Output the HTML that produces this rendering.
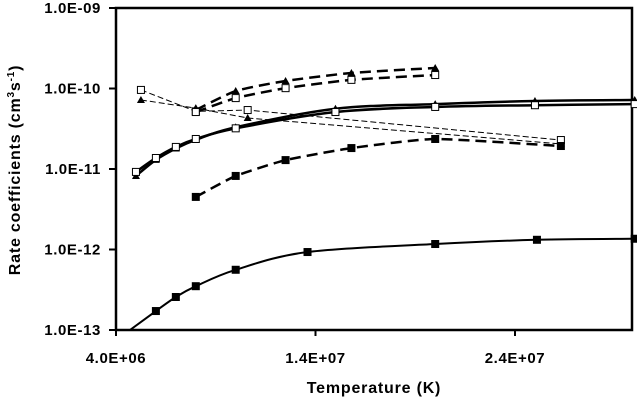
<!DOCTYPE html>
<html><head><meta charset="utf-8"><style>
body{margin:0;background:#fff;}
svg text{font-family:"Liberation Sans",Arial,sans-serif;font-weight:bold;fill:#000;}
</style></head><body>
<svg id="chart" width="637" height="400" viewBox="0 0 637 400" xmlns="http://www.w3.org/2000/svg">
<defs><clipPath id="clip"><rect x="116" y="8" width="516" height="322"/></clipPath></defs>
<g id="axes"></g>
<g id="series" clip-path="url(#clip)"></g>
<g id="markers"></g>
<text x="374" y="393" font-size="16" letter-spacing="0.8" text-anchor="middle">Temperature (K)</text>
<text transform="translate(20,170) rotate(-90)" font-size="16" letter-spacing="0.8" text-anchor="middle">Rate coefficients (cm<tspan font-size="10" dy="-6">3</tspan><tspan dy="6">s</tspan><tspan font-size="10" dy="-6">-1</tspan><tspan dy="6">)</tspan></text>
</svg>
<script>
// Temperatures in units of 1e6 K
const xTickValues = [4, 14, 24];
const xTickLabels = ["4.0E+06", "1.4E+07", "2.4E+07"];
const yTickExps = [-9, -10, -11, -12, -13];
const yTickLabels = ["1.0E-09", "1.0E-10", "1.0E-11", "1.0E-12", "1.0E-13"];

const tSolidSqFilled = [4.7, 6, 7, 8, 10, 13.6, 20, 25.1, 30];
const vSolidSqFilled = [1.0e-13, 1.72e-13, 2.57e-13, 3.5e-13, 5.6e-13, 9.3e-13, 1.17e-12, 1.32e-12, 1.36e-12];

const tDashSqFilled = [8, 10, 12.5, 15.8, 20, 26.3];
const vDashSqFilled = [4.5e-12, 8.2e-12, 1.29e-11, 1.82e-11, 2.36e-11, 1.93e-11];

const tSolidSqOpen = [5, 6, 7, 8, 10, 15, 20, 25, 30];
const vSolidSqOpen = [9.2e-12, 1.37e-11, 1.88e-11, 2.36e-11, 3.2e-11, 5.1e-11, 5.9e-11, 6.2e-11, 6.4e-11];

const tSolidTri = [5, 6, 7, 8, 10, 15, 20, 25, 30];
const vSolidTri = [8.2e-12, 1.3e-11, 1.8e-11, 2.3e-11, 3.3e-11, 5.6e-11, 6.4e-11, 7.0e-11, 7.2e-11];

const tThinSqOpen = [5.25, 8, 10.6, 26.3];
const vThinSqOpen = [9.6e-11, 5.2e-11, 5.4e-11, 2.29e-11];

const tThinTri = [5.25, 8, 10.6, 26.3];
const vThinTri = [7.2e-11, 5.7e-11, 4.3e-11, 2.05e-11];

const tDashSqOpen = [8, 10, 12.5, 15.8, 20];
const vDashSqOpen = [5.1e-11, 7.6e-11, 1.01e-10, 1.28e-10, 1.47e-10];

const tDashTri = [8, 10, 12.5, 15.8, 20];
const vDashTri = [5.4e-11, 9.3e-11, 1.24e-10, 1.56e-10, 1.80e-10];

const X0 = 116, X1 = 632, Y0 = 8, Y1 = 330;
function xs(t){ return X0 + (t - 4) * 19.95; }
function ys(v){ return Y0 + (-9 - Math.log10(v)) * 80.5; }
const NS = "http://www.w3.org/2000/svg";
function mk(tag, attrs, parent){
  const e = document.createElementNS(NS, tag);
  for (const k in attrs) e.setAttribute(k, attrs[k]);
  parent.appendChild(e); return e;
}
const axes = document.getElementById('axes');
const sg = document.getElementById('series');
const mg = document.getElementById('markers');

const frame = mk('rect', {x:X0, y:Y0, width:X1-X0, height:Y1-Y0, fill:'none', stroke:'#000', 'stroke-width':2.5}, axes);


yTickExps.forEach((e, i) => {
  const y = ys(Math.pow(10, e));
  const tk = mk('line', {x1:X0-7, x2:X0, y1:y, y2:y, stroke:'#000', 'stroke-width':2}, axes);
  
  
  const tx = mk('text', {x:X0-15, y:y+5, 'font-size':15, 'letter-spacing':0.6, 'text-anchor':'end'}, axes);
  tx.textContent = yTickLabels[i];
  
  
});
xTickValues.forEach((t, i) => {
  const x = xs(t);
  const tk = mk('line', {x1:x, x2:x, y1:Y1, y2:Y1+6, stroke:'#000', 'stroke-width':2}, axes);
  
  
  const tx = mk('text', {x:x, y:Y1+33, 'font-size':15, 'letter-spacing':0.6, 'text-anchor':'middle'}, axes);
  tx.textContent = xTickLabels[i];
  
  
});

function smoothPath(pts, k){
  let d = 'M' + pts[0][0] + ',' + pts[0][1];
  for (let i = 0; i < pts.length - 1; i++){
    const p0 = pts[i-1] || pts[i], p1 = pts[i], p2 = pts[i+1], p3 = pts[i+2] || p2;
    const c1 = [p1[0] + (p2[0]-p0[0])*k, p1[1] + (p2[1]-p0[1])*k];
    const c2 = [p2[0] - (p3[0]-p1[0])*k, p2[1] - (p3[1]-p1[1])*k];
    d += ' C' + c1 + ' ' + c2 + ' ' + p2;
  }
  return d;
}
function drawSeries(name, ts, vs, width, dash, marker, k){
  const pts = ts.map((t, i) => [xs(t), ys(vs[i])]);
  const p = mk('path', {d:smoothPath(pts, k), fill:'none', stroke:'#000', 'stroke-width':width}, sg);
  if (dash) p.setAttribute('stroke-dasharray', dash);
  
  
  pts.forEach(([x, y]) => {
    if (y > Y1 - 3) return;
    let m;
    if (marker === 'tri'){
      m = mk('polygon', {points:(x)+','+(y-4)+' '+(x-4)+','+(y+3)+' '+(x+4)+','+(y+3), fill:'#000'}, mg);
    } else {
      m = mk('rect', {x:x-3.5, y:y-3.5, width:7, height:7, fill: marker === 'sqf' ? '#000' : '#fff', stroke:'#000', 'stroke-width':1}, mg);
    }
    
    
  });
}
drawSeries('thin-dashed-triangles', tThinTri, vThinTri, 1, '6,3', 'tri', 0);
drawSeries('thin-dashed-open-squares', tThinSqOpen, vThinSqOpen, 1, '6,3', 'sqo', 0);
drawSeries('solid-triangles', tSolidTri, vSolidTri, 2.5, null, 'tri', 1/6);
drawSeries('solid-open-squares', tSolidSqOpen, vSolidSqOpen, 2.5, null, 'sqo', 1/6);
drawSeries('dashed-triangles', tDashTri, vDashTri, 2.5, '11,6', 'tri', 0.1);
drawSeries('dashed-open-squares', tDashSqOpen, vDashSqOpen, 2.5, '11,6', 'sqo', 0.1);
drawSeries('dashed-filled-squares', tDashSqFilled, vDashSqFilled, 2.5, '11,6', 'sqf', 0.08);
drawSeries('solid-filled-squares', tSolidSqFilled, vSolidSqFilled, 2, null, 'sqf', 1/6);
</script>
</body></html>
